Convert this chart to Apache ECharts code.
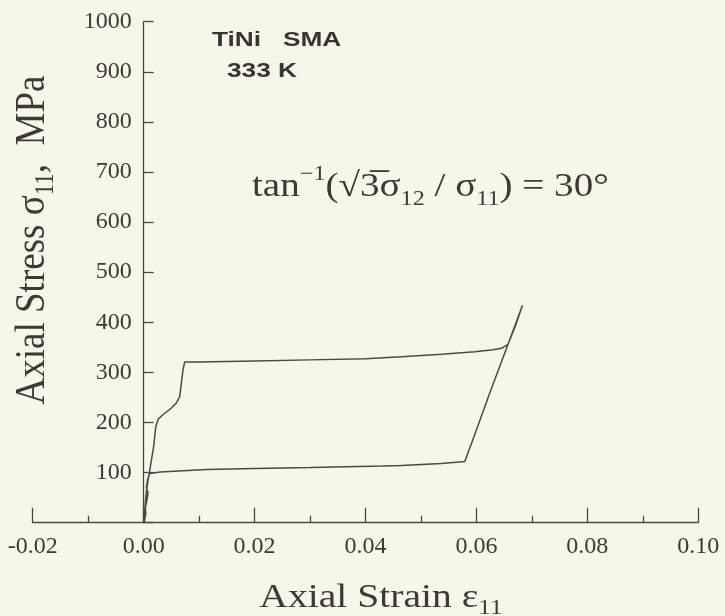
<!DOCTYPE html>
<html>
<head>
<meta charset="utf-8">
<script src="https://cdn.jsdelivr.net/npm/echarts@6/dist/echarts.min.js"></script>
<style>
html,body{margin:0;padding:0;background:#f6f7eb;}
#c{width:725px;height:616px;}
</style>
</head>
<body>
<div id="c"></div>
<script>
// Strain values (loading -> elastic peak -> unloading -> lower plateau -> back to origin)
const strain = [
  0, 0.0002, 0.0004, 0.0007, 0.0010, 0.0014, 0.0018, 0.0022, 0.0026, 0.0033,
  0.0041, 0.0050, 0.0059, 0.0065, 0.0068, 0.0071, 0.0074, 0.0100, 0.0200, 0.0300,
  0.0400, 0.0465, 0.0537, 0.0597, 0.0630, 0.0645, 0.0657, 0.0670, 0.0683,
  0.0657, 0.0625, 0.0597, 0.0579,
  0.0537, 0.0465, 0.0430, 0.0300, 0.0200, 0.0114, 0.0063, 0.0030, 0.0011,
  0.0007, 0.0005, 0.0008, 0.0006, 0.0003, 0.0004, 0.0001
];
// Axial stress (MPa)
const stress = [
  0, 25, 52, 78, 98, 125, 152, 192, 206, 214,
  221, 229, 239, 251, 278, 305, 321, 321, 323, 325,
  327, 331, 336, 341, 345, 348, 356, 392, 434,
  356, 262, 176, 122,
  118, 114, 113, 110, 108, 106, 103, 101, 98,
  85, 70, 60, 45, 30, 18, 0
];
const xTickValues = [-0.02, 0.00, 0.02, 0.04, 0.06, 0.08, 0.10];
const yTickValues = [0, 100, 200, 300, 400, 500, 600, 700, 800, 900, 1000];

const inkLine = '#4a4a45';
const inkText = '#3d3a35';
const serif = '"Liberation Serif", "DejaVu Serif", serif';

const points = strain.map((s, i) => [s, stress[i]]);

const gridLeft = 32.7, gridRight = 26.7, chartW = 725;
const xMin = xTickValues[0], xMax = xTickValues[xTickValues.length - 1];
// place the stress axis on strain = 0 (labels move with it)
const yAxisShift = (0 - xMin) / (xMax - xMin) * (chartW - gridLeft - gridRight);

const chart = echarts.init(document.getElementById('c'), null, {renderer: 'canvas'});
chart.setOption({
  animation: false,
  backgroundColor: '#f6f7eb',
  grid: {left: gridLeft, right: gridRight, top: 21.7, bottom: 93.3, containLabel: false, outerBoundsMode: 'none'},
  xAxis: {
    type: 'value',
    min: xMin,
    max: xMax,
    interval: 0.02,
    axisLine: {show: true, onZero: false, lineStyle: {color: inkLine, width: 1.3}},
    axisTick: {show: true, inside: true, length: 15, lineStyle: {color: inkLine, width: 1.3}},
    minorTick: {show: true, splitNumber: 2, length: 7, lineStyle: {color: inkLine, width: 1.3}},
    axisLabel: {
      color: inkText, fontFamily: serif, fontSize: 24, margin: 12,
      formatter: v => v.toFixed(2)
    },
    splitLine: {show: false}
  },
  yAxis: {
    type: 'value',
    min: yTickValues[0],
    max: yTickValues[yTickValues.length - 1],
    interval: 100,
    offset: -yAxisShift,
    axisLine: {show: true, onZero: false, lineStyle: {color: inkLine, width: 1.3}},
    axisTick: {show: true, inside: true, length: 10, lineStyle: {color: inkLine, width: 1.3}},
    axisLabel: {
      color: inkText, fontFamily: serif, fontSize: 24, margin: 12,
      formatter: v => (v === 0 ? '' : String(v))
    },
    splitLine: {show: false}
  },
  series: [{
    type: 'line',
    data: points,
    showSymbol: false,
    symbol: 'none',
    smooth: false,
    lineStyle: {color: inkLine, width: 1.5},
    z: 3
  }],
  graphic: [
    {
      type: 'text', x: 212, y: 40, scaleX: 1.25,
      style: {text: 'TiNi   SMA', font: 'bold 21px "Liberation Sans", Arial, sans-serif',
              fill: '#3b3232', align: 'left', verticalAlign: 'middle'}
    },
    {
      type: 'text', x: 227, y: 71, scaleX: 1.25,
      style: {text: '333 K', font: 'bold 21px "Liberation Sans", Arial, sans-serif',
              fill: '#3b3232', align: 'left', verticalAlign: 'middle'}
    },
    {
      type: 'text', x: 252, y: 187, scaleX: 1.15,
      style: {
        text: '{m|tan}{sup|\u22121}{m|(\u221A3\u0305\u03C3}{sub|12}{m| / \u03C3}{sub|11}{m|) = 30\u00B0}',
        align: 'left', verticalAlign: 'middle', fill: inkText,
        rich: {
          m: {fontFamily: serif, fontSize: 34, lineHeight: 46, fill: inkText, verticalAlign: 'middle'},
          sup: {fontFamily: serif, fontSize: 21, lineHeight: 21, fill: inkText, verticalAlign: 'top'},
          sub: {fontFamily: serif, fontSize: 21, lineHeight: 21, fill: inkText, verticalAlign: 'bottom'}
        }
      }
    },
    {
      type: 'text', x: 381, y: 598, scaleX: 1.2,
      style: {
        text: '{m|Axial Strain \u03B5}{sub|11}',
        align: 'center', verticalAlign: 'middle', fill: inkText,
        rich: {
          m: {fontFamily: serif, fontSize: 33, lineHeight: 42, fill: inkText, verticalAlign: 'middle'},
          sub: {fontFamily: serif, fontSize: 21, lineHeight: 21, fill: inkText, verticalAlign: 'bottom'}
        }
      }
    },
    {
      type: 'text', x: 33, y: 240, rotation: Math.PI / 2, scaleY: 1.15,
      style: {
        text: '{m|Axial Stress \u03C3}{sub|11}{m|,  MPa}',
        align: 'center', verticalAlign: 'middle', fill: inkText,
        rich: {
          m: {fontFamily: serif, fontSize: 37, lineHeight: 46, fill: inkText, verticalAlign: 'middle'},
          sub: {fontFamily: serif, fontSize: 23, lineHeight: 23, fill: inkText, verticalAlign: 'bottom'}
        }
      }
    }
  ]
});
</script>
</body>
</html>
